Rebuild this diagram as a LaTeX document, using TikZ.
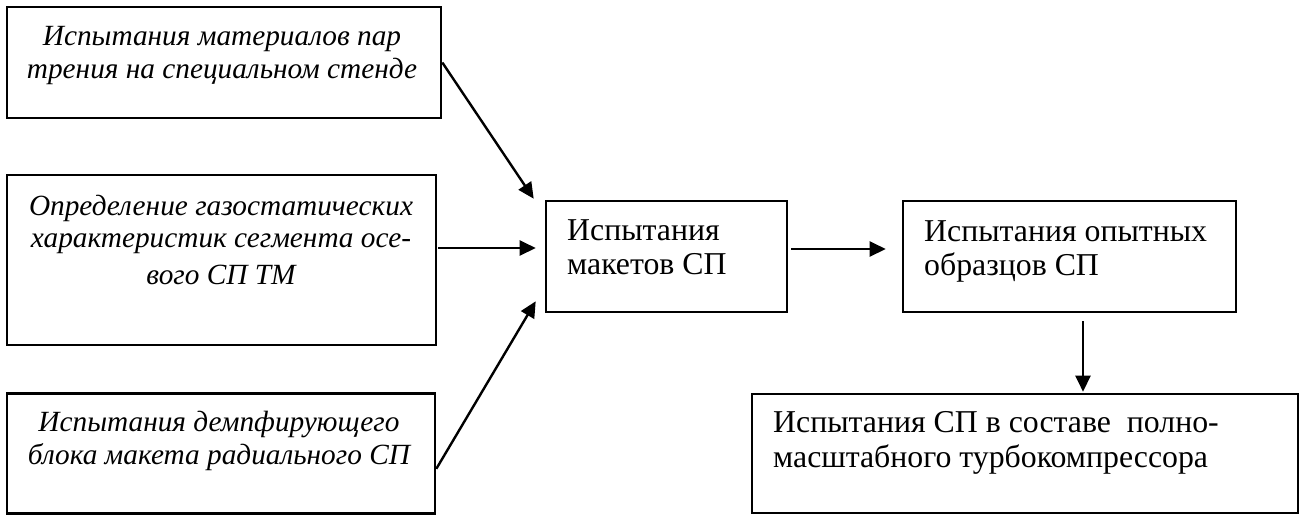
\documentclass[tikz,border=0pt]{standalone}
\usepackage{fontspec}
\setmainfont{Liberation Serif}
\usetikzlibrary{arrows.meta,calc}
\begin{document}
\begin{tikzpicture}[x=1pt,y=-1pt,
  box/.style={draw,line width=2.6pt,inner sep=0pt},
  conn/.style={line width=2.4pt,-{Triangle[length=16pt,width=15pt]}},
  itext/.style={font=\fontsize{29.3}{33}\selectfont\itshape,align=center,anchor=base,inner sep=0pt},
  rtext/.style={font=\fontsize{31.8}{34}\selectfont,align=left,anchor=base west,inner sep=0pt}]
\useasboundingbox (0,0) rectangle (1301,515);
% boxes
\node[box,minimum width=434pt,minimum height=111pt] (b1) at (224,62.5) {};
\node[box,minimum width=429pt,minimum height=170pt] (b2) at (221.5,260) {};
\node[box,minimum width=428pt,minimum height=120pt] (b3) at (221,453.5) {};
\node[box,minimum width=241pt,minimum height=111pt] (bc) at (666.5,256.5) {};
\node[box,minimum width=333pt,minimum height=111pt] (b4) at (1069.5,256.5) {};
\node[box,minimum width=546pt,minimum height=119pt] (b5) at (1025,453.5) {};
% texts (anchor = baseline of last line)
\node[itext] (t1) at (222,78.7) {Испытания материалов пар\\трения на специальном стенде};
\node[itext] (t2) at (221,284.7) {Определение газостатических\\[-1pt]характеристик сегмента осе-\\[4pt]вого СП ТМ};
\node[itext] (t3) at (219,464.7) {Испытания демпфирующего\\блока макета радиального СП};
\node[rtext] (tc) at (567,274.5) {Испытания\\макетов СП};
\node[rtext] (t4) at (924,275.5) {Испытания опытных\\образцов СП};
\node[rtext] (t5) at (773,467) {Испытания СП в составе\ \ полно-\\[1pt]масштабного турбокомпрессора};
% connectors
\draw[conn] (b1.east) -- ($(bc.north west)+(-11,-1)$);
\draw[conn] ($(b2.east)+(1,-12)$) -- ($(bc.west)+(-9,-8.5)$);
\draw[conn] ($(b3.south east)+(0,-46)$) -- ($(bc.south west)+(-9,-12)$);
\draw[conn] ($(bc.east)+(3,-7.5)$) -- ($(b4.west)+(-16,-7.5)$);
\draw[conn] ($(b4.south)+(13.5,8)$) -- ($(b5.north)+(58,-1)$);
\end{tikzpicture}
\end{document}
